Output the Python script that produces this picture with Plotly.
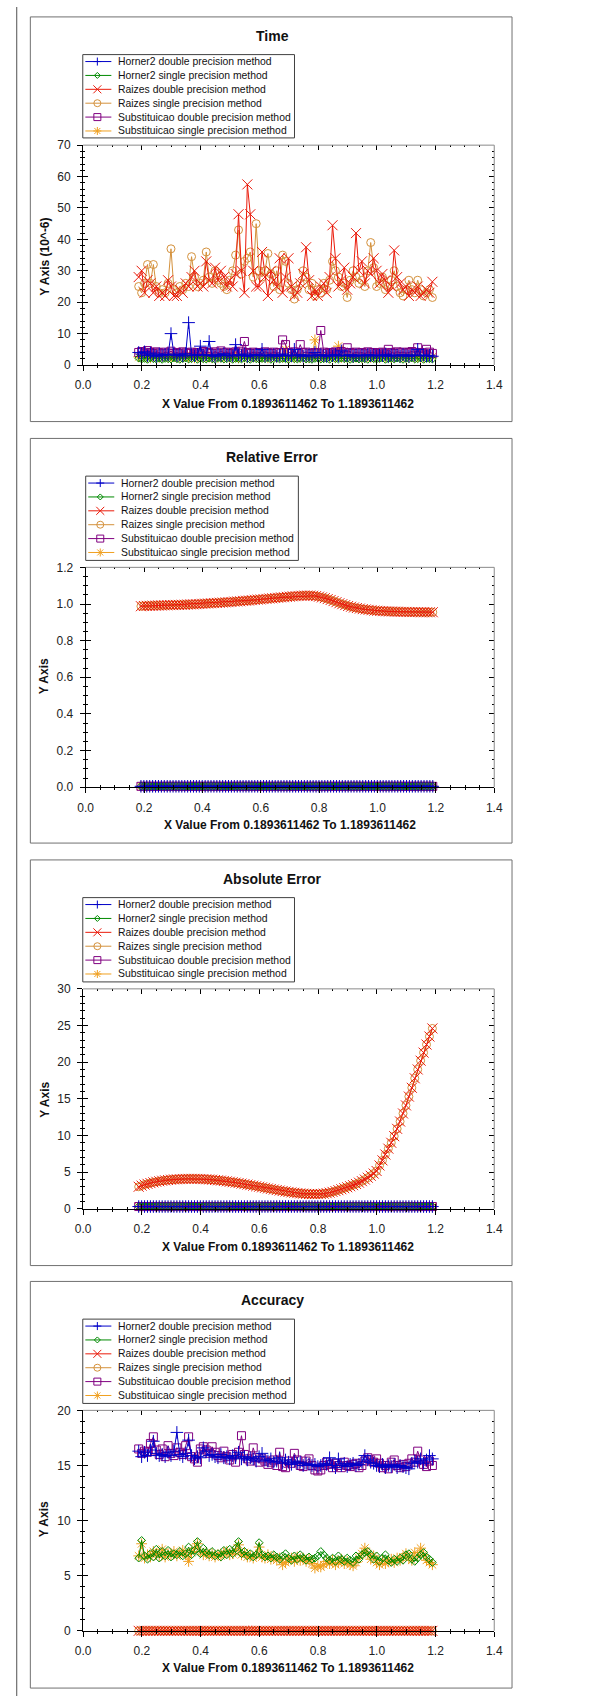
import plotly.graph_objects as go

W, H = 589, 1703
N = 101
X_START = 0.1893611462
X_STEP = 0.01
X = [round(X_START + X_STEP * i, 10) for i in range(N)]

NAMES = ["Horner2 double precision method", "Horner2 single precision method",
         "Raizes double precision method", "Raizes single precision method",
         "Substituicao double precision method", "Substituicao single precision method"]
COLORS = ["#0000c8", "#008a00", "#ea1a0a", "#d4913c", "#800080", "#f0a020"]
SYMBOLS = ["cross-thin-open", "diamond-open", "x-thin-open", "circle-open", "square-open", "asterisk-open"]
MSIZE = [9, 6, 10, 8, 8, 9]

X_TITLE = "X Value From 0.1893611462 To 1.1893611462"
TITLES = ["Time", "Relative Error", "Absolute Error", "Accuracy"]
Y_TITLES = ["Y Axis (10^-6)", "Y Axis", "Y Axis", "Y Axis"]

# ---------------- Time ----------------
TIME_H2D = [4.0, 3.5, 4.2, 3.0, 3.8, 3.2, 2.8, 3.5, 3.0, 3.4,
            3.2, 10.0, 3.5, 3.0, 3.3, 2.9, 3.6, 13.5, 3.2, 3.0,
            3.4, 6.0, 3.1, 3.3, 7.5, 3.0, 2.8, 3.4, 3.1, 3.6,
            3.0, 3.2, 2.9, 6.5, 3.3, 3.0, 3.5, 2.8, 3.2, 3.0,
            3.4, 3.1, 5.0, 2.9, 3.2, 3.0, 3.3, 2.8, 3.1, 3.5,
            3.0, 3.2, 2.9, 5.0, 3.1, 3.3, 2.8, 3.0, 3.2, 2.9,
            4.0, 3.1, 3.3, 3.0, 2.8, 3.2, 3.0, 3.4, 2.9, 4.5,
            3.1, 3.0, 3.3, 2.8, 3.2, 3.0, 3.1, 2.9, 3.3, 3.0,
            3.2, 2.9, 3.1, 3.0, 3.4, 2.8, 3.2, 3.0, 3.1, 2.9,
            3.3, 3.0, 2.8, 3.2, 3.1, 5.0, 3.0, 3.2, 2.9, 3.1,
            2.8]
TIME_H2S = [2.2, 1.9, 2.1, 1.8, 2.3, 2.0, 1.9, 2.2, 1.8, 2.1,
            2.0, 1.9, 2.3, 2.0, 1.8, 2.1, 2.2, 1.9, 2.0, 2.4,
            1.8, 2.1, 2.0, 1.9, 2.2, 2.0, 1.8, 2.3, 2.1, 1.9,
            2.0, 2.2, 1.8, 2.1, 2.0, 1.9, 2.3, 2.0, 1.8, 2.2,
            2.0, 1.9, 2.1, 2.0, 2.3, 1.8, 2.0, 2.2, 1.9, 2.1,
            2.0, 1.8, 2.2, 2.0, 1.9, 2.1, 2.3, 1.9, 2.0, 1.8,
            2.1, 2.2, 1.9, 2.0, 2.1, 1.8, 2.3, 2.0, 1.9, 2.2,
            2.0, 2.1, 1.8, 2.0, 2.2, 1.9, 2.1, 2.0, 1.8, 2.3,
            2.0, 1.9, 2.1, 2.2, 1.8, 2.0, 2.1, 1.9, 2.2, 2.0,
            1.8, 2.1, 2.0, 2.3, 1.9, 2.0, 2.2, 1.8, 2.1, 2.0,
            1.9]
TIME_RD = [28, 30, 23, 27, 26, 23, 25, 22, 23, 22,
           27, 25, 22, 22, 24, 23, 26, 25, 28, 30,
           25, 26, 25, 33, 27, 26, 31, 27, 30, 28,
           25, 27, 25, 29, 48, 30, 23, 57.5, 48, 30,
           25, 25, 36, 28, 22, 30, 27, 25, 34, 23,
           28, 34, 25, 22, 23, 26, 29, 37.5, 27, 22,
           24, 22, 25, 26, 23, 28, 44.5, 34, 25, 27,
           31, 24, 26, 28, 42, 30, 33, 26, 30, 29,
           34, 30, 26, 29, 27, 23, 25, 36.5, 28, 26,
           24, 25, 22, 24, 23, 25, 22, 23, 24, 23,
           26.5]
TIME_RS = [25, 23, 26, 32, 26, 32, 25, 23, 24, 23,
           26, 37, 24, 23, 25, 24, 26, 25, 34.5, 28,
           25, 26, 27, 36, 28, 26, 30, 27, 26, 25,
           24, 27, 30, 35, 43, 29, 33, 34, 36, 28,
           45, 30, 28, 30, 35.5, 29, 25, 30, 24, 35,
           33, 26, 24, 21, 24, 26, 30, 28, 24, 26,
           22, 24, 23, 26, 24, 27, 33, 30, 28, 25,
           26, 21.5, 27, 30, 28, 26, 27, 25, 30, 39,
           31, 25, 26, 28, 24, 25, 27, 30, 25, 23,
           22, 24, 27, 24, 23, 27, 24, 22, 23, 24,
           21.5]
TIME_SD = [4.0, 4.3, 3.8, 4.6, 4.0, 3.7, 4.2, 3.9, 3.6, 4.1,
           3.8, 4.4, 3.7, 4.0, 3.6, 4.2, 3.9, 3.7, 4.1, 3.8,
           4.0, 3.6, 4.3, 3.9, 4.0, 3.7, 4.2, 3.8, 4.5, 3.9,
           4.1, 3.7, 3.9, 4.2, 3.8, 4.4, 7.5, 4.0, 3.7, 4.1,
           3.8, 4.0, 3.6, 4.2, 3.9, 3.7, 4.1, 3.8, 4.0, 8.0,
           6.5, 4.0, 3.8, 4.2, 3.7, 6.5, 3.9, 4.1, 3.8, 3.6,
           4.0, 3.8, 11.0, 4.1, 3.7, 4.0, 3.9, 4.2, 3.8, 4.3,
           3.9, 5.5, 4.0, 3.7, 4.1, 3.8, 4.0, 3.6, 4.2, 3.9,
           4.0, 3.7, 3.9, 4.1, 3.8, 5.0, 4.0, 3.7, 4.2, 3.9,
           4.1, 3.8, 4.0, 4.3, 3.9, 5.5, 4.0, 3.8, 5.0, 4.1,
           3.7]
TIME_SS = [2.6, 2.4, 2.8, 2.5, 2.3, 2.7, 2.5, 2.4, 2.6, 2.8,
           2.5, 2.3, 2.7, 2.4, 2.6, 2.5, 2.8, 2.4, 2.6, 2.3,
           2.5, 2.7, 2.4, 2.6, 2.5, 2.3, 2.8, 2.4, 2.6, 2.5,
           2.7, 2.4, 2.5, 2.6, 2.3, 2.8, 2.5, 2.4, 2.6, 2.5,
           2.7, 2.4, 2.5, 2.6, 2.3, 2.5, 2.8, 2.4, 2.6, 2.5,
           5.0, 2.4, 2.6, 2.5, 2.7, 2.4, 2.5, 2.6, 2.3, 2.5,
           8.0, 2.6, 2.4, 2.5, 2.7, 2.4, 2.6, 2.5, 6.0, 2.4,
           2.6, 2.5, 2.7, 2.4, 2.5, 2.6, 2.3, 2.5, 2.7, 2.4,
           2.6, 2.5, 2.4, 2.7, 2.5, 2.6, 2.3, 2.5, 2.8, 2.4,
           2.6, 2.5, 2.4, 2.7, 2.5, 2.6, 2.4, 2.5, 2.7, 2.4,
           2.6]

# ---------------- Relative Error ----------------
REL_NEAR_ZERO = 0.005
REL_RD = [0.988, 0.989, 0.990, 0.990, 0.991, 0.991, 0.992, 0.992, 0.993, 0.993,
          0.994, 0.994, 0.995, 0.995, 0.996, 0.996, 0.997, 0.998, 0.998, 0.999,
          1.000, 1.001, 1.002, 1.003, 1.004, 1.005, 1.006, 1.007, 1.008, 1.009,
          1.010, 1.011, 1.013, 1.014, 1.015, 1.017, 1.018, 1.019, 1.021, 1.022,
          1.024, 1.025, 1.027, 1.028, 1.030, 1.031, 1.033, 1.034, 1.036, 1.037,
          1.039, 1.040, 1.042, 1.043, 1.044, 1.045, 1.046, 1.046, 1.046, 1.045,
          1.043, 1.040, 1.036, 1.032, 1.027, 1.022, 1.016, 1.010, 1.004, 0.999,
          0.994, 0.989, 0.985, 0.981, 0.978, 0.975, 0.972, 0.970, 0.968, 0.966,
          0.964, 0.963, 0.962, 0.961, 0.960, 0.959, 0.959, 0.958, 0.958, 0.957,
          0.957, 0.957, 0.956, 0.956, 0.956, 0.956, 0.955, 0.955, 0.955, 0.955,
          0.955]
REL_RS = list(REL_RD)
REL_ZERO = [REL_NEAR_ZERO] * N

# ---------------- Absolute Error ----------------
ABS_NEAR_ZERO = 0.3
ABS_RD = [3.0, 3.15, 3.3, 3.4, 3.5, 3.6, 3.68, 3.75, 3.82, 3.87,
          3.92, 3.96, 4.0, 4.02, 4.04, 4.06, 4.07, 4.08, 4.08, 4.08,
          4.07, 4.06, 4.04, 4.02, 3.99, 3.96, 3.92, 3.88, 3.84, 3.79,
          3.74, 3.68, 3.62, 3.56, 3.50, 3.43, 3.36, 3.29, 3.22, 3.15,
          3.07, 3.0, 2.92, 2.85, 2.77, 2.70, 2.62, 2.55, 2.48, 2.41,
          2.35, 2.29, 2.23, 2.18, 2.13, 2.09, 2.06, 2.03, 2.01, 2.0,
          2.0, 2.0, 2.02, 2.06, 2.12, 2.2, 2.3, 2.41, 2.53, 2.66,
          2.8, 2.93, 3.07, 3.22, 3.38, 3.56, 3.76, 3.98, 4.23, 4.5,
          4.8, 5.15, 5.9, 6.6, 7.4, 8.2, 9.0, 9.9, 10.9, 11.9,
          13.0, 14.1, 15.3, 16.5, 17.8, 19.0, 20.2, 21.3, 22.4, 23.5,
          24.6]
ABS_RS = list(ABS_RD)
ABS_ZERO = [ABS_NEAR_ZERO] * N

# ---------------- Accuracy ----------------
ACC_H2D = [16.3, 15.8, 16.2, 15.9, 16.4, 17.2, 16.1, 15.9, 16.0, 15.8,
           16.2, 15.9, 16.3, 18.0, 16.0, 15.8, 16.1, 17.3, 15.9, 15.6,
           15.8, 15.7, 16.6, 16.3, 15.9, 16.0, 15.8, 15.7, 16.0, 15.7,
           15.8, 15.6, 15.9, 15.7, 16.2, 15.6, 15.8, 15.5, 15.7, 15.6,
           15.4, 15.8, 16.1, 15.5, 15.4, 15.6, 15.3, 15.4, 15.7, 15.2,
           15.5, 15.3, 15.1, 15.4, 15.2, 15.3, 15.0, 15.2, 15.1, 15.0,
           15.1, 14.9, 15.0, 15.2, 15.1, 15.7, 15.0, 14.8, 15.6, 15.0,
           15.2, 14.9, 15.1, 15.2, 15.0, 15.1, 15.3, 15.9, 15.5, 15.3,
           15.2, 15.0, 14.9, 15.1, 14.8, 15.0, 14.9, 15.1, 14.8, 15.0,
           14.9, 14.8, 14.7, 15.2, 15.4, 15.3, 15.6, 15.2, 15.5, 15.9,
           15.6]
ACC_H2S = [6.6, 8.2, 6.8, 6.5, 7.0, 6.7, 7.4, 6.6, 7.2, 6.8,
           7.3, 6.7, 7.0, 6.9, 7.2, 6.8, 7.0, 7.6, 6.9, 7.3,
           8.1, 7.0, 7.5, 7.1, 6.9, 7.2, 6.8, 7.0, 6.7, 7.3,
           6.9, 7.4, 7.0, 7.5, 8.1, 7.0, 7.2, 6.8, 7.0, 6.7,
           6.9, 8.0, 6.9, 6.7, 6.8, 6.6, 6.9, 6.7, 6.5, 6.8,
           7.0, 6.6, 6.4, 6.8, 6.5, 6.9, 6.6, 6.4, 6.7, 6.5,
           6.6, 6.8, 7.2, 6.9, 6.6, 6.4, 6.6, 6.3, 6.8, 6.5,
           6.3, 6.6, 6.4, 6.2, 6.8, 6.5, 6.9, 7.1, 7.2, 6.9,
           6.5, 6.8, 6.3, 6.6, 6.9, 6.4, 6.2, 6.5, 6.3, 6.6,
           6.4, 6.9, 7.0, 6.5, 6.3, 6.6, 6.9, 7.1, 6.7, 6.5,
           6.2]
ACC_RD = [0.0] * N
ACC_RS = [0.0] * N
ACC_SD = [16.5, 16.1, 16.3, 16.2, 17.0, 17.6, 16.4, 16.0, 16.5, 15.8,
          16.8, 16.1, 15.9, 16.6, 16.2, 16.0, 16.8, 17.6, 15.8, 15.6,
          15.3, 16.5, 16.7, 16.4, 16.1, 16.7, 16.2, 15.9, 15.7, 16.3,
          15.8, 15.5, 16.0, 15.3, 16.2, 17.7, 16.0, 15.6, 15.4, 16.6,
          15.7, 15.3, 15.6, 15.4, 15.1, 15.3, 15.5, 15.0, 16.2, 14.9,
          14.8, 15.4, 15.2, 16.1, 15.5, 15.0, 14.9, 15.4, 15.6, 15.0,
          14.6, 14.5, 14.6, 15.0, 15.3, 15.1, 14.8, 15.2, 15.0, 14.8,
          15.3, 15.0, 14.9, 15.1, 15.2, 14.8, 15.0, 15.4, 15.7, 15.5,
          15.3, 15.6, 15.2, 14.8, 15.0, 14.7, 15.3, 15.5, 15.0, 14.8,
          15.1, 14.9, 15.2, 15.6, 15.3, 16.3, 15.5, 15.1, 14.9, 15.4,
          15.0]
ACC_SS = [6.8, 7.9, 6.6, 6.9, 6.7, 7.2, 7.0, 6.8, 7.4, 6.7,
          7.0, 6.9, 7.2, 6.8, 7.0, 7.3, 6.9, 6.3, 7.1, 7.5,
          7.9, 7.2, 6.9, 7.1, 6.8, 7.0, 6.7, 6.9, 6.8, 7.1,
          7.2, 6.9, 7.0, 7.3, 7.8, 6.9, 7.1, 6.7, 6.8, 6.6,
          6.9, 7.6, 6.7, 6.6, 6.9, 6.5, 6.7, 6.4, 6.6, 6.0,
          6.2, 6.5, 6.6, 6.3, 6.7, 6.4, 6.6, 6.3, 6.5, 6.1,
          5.7, 5.9, 5.8, 6.0, 6.3, 6.1, 6.4, 6.0, 6.2, 6.5,
          6.1, 6.3, 6.0, 5.9, 6.2, 6.6, 7.0, 7.5, 7.0, 6.5,
          6.8, 6.2, 6.0, 6.4, 6.1, 6.3, 6.5, 6.2, 6.6, 6.4,
          6.7, 7.0, 6.6, 6.4, 7.1, 6.8, 7.5, 6.9, 6.4, 6.2,
          6.0]

SERIES = [
    [TIME_H2D, TIME_H2S, TIME_RD, TIME_RS, TIME_SD, TIME_SS],
    [REL_ZERO, REL_ZERO, REL_RD, REL_RS, REL_ZERO, REL_ZERO],
    [ABS_ZERO, ABS_ZERO, ABS_RD, ABS_RS, ABS_ZERO, ABS_ZERO],
    [ACC_H2D, ACC_H2S, ACC_RD, ACC_RS, ACC_SD, ACC_SS],
]
Y_RANGES = [[0, 70], [0, 1.2], [0, 30], [0, 20]]
Y_DTICK = [10, 0.2, 5, 5]
Y_MINOR = [2, 0.05, 1, 1]
Y_FMT = ["d", ".1f", "d", "d"]

# ---------------- layout geometry (pixels) ----------------
FRAMES = [(23, 10, 519, 418), (23, 435, 519, 843), (23, 860, 519, 1269), (23, 1285, 519, 1695)]
PLOTS = [(77.3, 139.3, 500.7, 361.0), (80.0, 565.0, 500.7, 786.7),
         (77.3, 990.0, 500.7, 1211.7), (77.3, 1415.0, 500.7, 1637.3)]
LEGENDS = [(77, 48, 295, 132), (80, 473, 299, 558), (77, 898, 295, 983), (77, 1323, 295, 1408)]
TITLE_POS = [(272, 29), (272, 454), (272, 879), (272, 1304)]
XTITLE_POS = [(288, 400), (290, 825), (288, 1250), (288, 1675)]
YTITLE_POS = [(38, 252), (38, 675), (38, 1102), (38, 1525)]

FONT = "Liberation Sans, Arial, sans-serif"


def px(x):
    return x / W


def py(y):
    return 1 - y / H


def axname(kind, k):
    return kind if k == 1 else f"{kind}{k}"


fig = go.Figure()
layout = dict(width=W, height=H, autosize=False,
              margin=dict(l=0, r=0, t=0, b=0, pad=0),
              paper_bgcolor="white", plot_bgcolor="white",
              showlegend=False, font=dict(family=FONT, size=12, color="#222"))
shapes = []
annotations = []

# left page line
shapes.append(dict(type="line", xref="paper", yref="paper", x0=px(9), x1=px(9), y0=0, y1=1,
                   line=dict(color="#505050", width=1)))

GLYPHS = {
    "cross-thin-open": "M-4,0 L4,0 M0,-4 L0,4",
    "diamond-open": "M0,-3 L3,0 L0,3 L-3,0 Z",
    "x-thin-open": "M-4,-4 L4,4 M-4,4 L4,-4",
    "square-open": "M-3.5,-3.5 L3.5,-3.5 L3.5,3.5 L-3.5,3.5 Z",
    "asterisk-open": "M-4,0 L4,0 M0,-4 L0,4 M-3,-3 L3,3 M-3,3 L3,-3",
}

for p in range(4):
    k = p + 1
    ko = p + 5
    fx0, fy0, fx1, fy1 = FRAMES[p]
    x0, y0, x1, y1 = PLOTS[p]
    xd = [px(x0), px(x1)]
    yd = [py(y1), py(y0)]

    # panel frame
    shapes.append(dict(type="rect", xref="paper", yref="paper", x0=px(fx0), x1=px(fx1),
                       y0=py(fy1), y1=py(fy0), line=dict(color="#707070", width=1), layer="below"))
    # top and right plot borders (gray)
    shapes.append(dict(type="line", xref="paper", yref="paper", x0=px(x0), x1=px(x1), y0=py(y0), y1=py(y0),
                       line=dict(color="#8a8a8a", width=1)))
    shapes.append(dict(type="line", xref="paper", yref="paper", x0=px(x1), x1=px(x1), y0=py(y1), y1=py(y0),
                       line=dict(color="#8a8a8a", width=1)))

    common_x = dict(range=[0, 1.4], tick0=0, dtick=0.2, showgrid=False, zeroline=False, fixedrange=True)
    common_y = dict(range=Y_RANGES[p], tick0=0, dtick=Y_DTICK[p], showgrid=False, zeroline=False, fixedrange=True)

    layout[f"xaxis{'' if k == 1 else k}"] = dict(
        domain=xd, anchor=axname("y", k), tickformat=".1f",
        ticks="outside", ticklen=5, tickwidth=1, tickcolor="black",
        showline=True, linecolor="black", linewidth=1,
        minor=dict(dtick=0.05, tick0=0, ticks="outside", ticklen=2, tickcolor="black"),
        tickfont=dict(family=FONT, size=12, color="#222"), ticklabelstandoff=4, **common_x)
    layout[f"yaxis{'' if k == 1 else k}"] = dict(
        domain=yd, anchor=axname("x", k), tickformat=Y_FMT[p],
        ticks="outside", ticklen=5, tickwidth=1, tickcolor="black",
        showline=True, linecolor="black", linewidth=1,
        minor=dict(dtick=Y_MINOR[p], tick0=0, ticks="outside", ticklen=2, tickcolor="black"),
        tickfont=dict(family=FONT, size=12, color="#222"), ticklabelstandoff=4, **common_y)
    # overlay axes for inward (and mirrored) ticks
    layout[f"xaxis{ko}"] = dict(
        overlaying=axname("x", k), anchor=f"y{ko}", side="bottom",
        ticks="inside", ticklen=5, tickwidth=1, tickcolor="black", showticklabels=False,
        showline=False, mirror="ticks",
        minor=dict(dtick=0.05, tick0=0, ticks="inside", ticklen=2, tickcolor="black"), **common_x)
    layout[f"yaxis{ko}"] = dict(
        overlaying=axname("y", k), anchor=f"x{ko}", side="left",
        ticks="inside", ticklen=5, tickwidth=1, tickcolor="black", showticklabels=False,
        showline=False, mirror="ticks",
        minor=dict(dtick=Y_MINOR[p], tick0=0, ticks="inside", ticklen=2, tickcolor="black"), **common_y)
    fig.add_trace(go.Scatter(x=[None], y=[None], xaxis=f"x{ko}", yaxis=f"y{ko}",
                             showlegend=False, hoverinfo="skip"))

    # data traces (drawn last series first so the first listed ends on top)
    for s in reversed(range(6)):
        ys = SERIES[p][s]
        fig.add_trace(go.Scatter(
            x=X[:len(ys)], y=ys, mode="lines+markers", name=NAMES[s],
            xaxis=axname("x", k), yaxis=axname("y", k), cliponaxis=False,
            line=dict(color=COLORS[s], width=1),
            marker=dict(symbol=SYMBOLS[s], size=MSIZE[s], color=COLORS[s],
                        line=dict(color=COLORS[s], width=1)),
            showlegend=False))

    # titles
    tx, ty = TITLE_POS[p]
    annotations.append(dict(text=f"<b>{TITLES[p]}</b>", x=px(tx), y=py(ty), xref="paper", yref="paper",
                            xanchor="center", yanchor="middle", showarrow=False,
                            font=dict(family=FONT, size=14, color="#111")))
    tx, ty = XTITLE_POS[p]
    annotations.append(dict(text=f"<b>{X_TITLE}</b>", x=px(tx), y=py(ty), xref="paper", yref="paper",
                            xanchor="center", yanchor="middle", showarrow=False,
                            font=dict(family=FONT, size=12, color="#111")))
    tx, ty = YTITLE_POS[p]
    annotations.append(dict(text=f"<b>{Y_TITLES[p]}</b>", x=px(tx), y=py(ty), xref="paper", yref="paper",
                            xanchor="center", yanchor="middle", showarrow=False, textangle=-90,
                            font=dict(family=FONT, size=12, color="#111")))

    # legend (box, line sample, marker glyph, label)
    lx0, ly0, lx1, ly1 = LEGENDS[p]
    shapes.append(dict(type="rect", xref="paper", yref="paper", x0=px(lx0), x1=px(lx1),
                       y0=py(ly1), y1=py(ly0), line=dict(color="#404040", width=1),
                       fillcolor="white", layer="above"))
    for s in range(6):
        cy = ly0 + 7 + 14 * s
        cx = lx0 + 15
        shapes.append(dict(type="path", xref="paper", yref="paper", xsizemode="pixel", ysizemode="pixel",
                           xanchor=px(cx), yanchor=py(cy), path="M-12,0 L14,0",
                           line=dict(color=COLORS[s], width=1), layer="above"))
        if SYMBOLS[s] == "circle-open":
            shapes.append(dict(type="circle", xref="paper", yref="paper", xsizemode="pixel", ysizemode="pixel",
                               xanchor=px(cx), yanchor=py(cy), x0=-3.5, x1=3.5, y0=-3.5, y1=3.5,
                               line=dict(color=COLORS[s], width=1), fillcolor="rgba(0,0,0,0)", layer="above"))
        else:
            shapes.append(dict(type="path", xref="paper", yref="paper", xsizemode="pixel", ysizemode="pixel",
                               xanchor=px(cx), yanchor=py(cy), path=GLYPHS[SYMBOLS[s]],
                               line=dict(color=COLORS[s], width=1), layer="above"))
        annotations.append(dict(text=NAMES[s], x=px(lx0 + 34), y=py(cy), xref="paper", yref="paper",
                                xanchor="left", yanchor="middle", showarrow=False,
                                font=dict(family=FONT, size=10.4, color="#111")))

layout["shapes"] = shapes
layout["annotations"] = annotations
fig.update_layout(layout)

fig.write_html("out.html", config={"displayModeBar": False},
               post_script="document.body.style.margin='0px';")
